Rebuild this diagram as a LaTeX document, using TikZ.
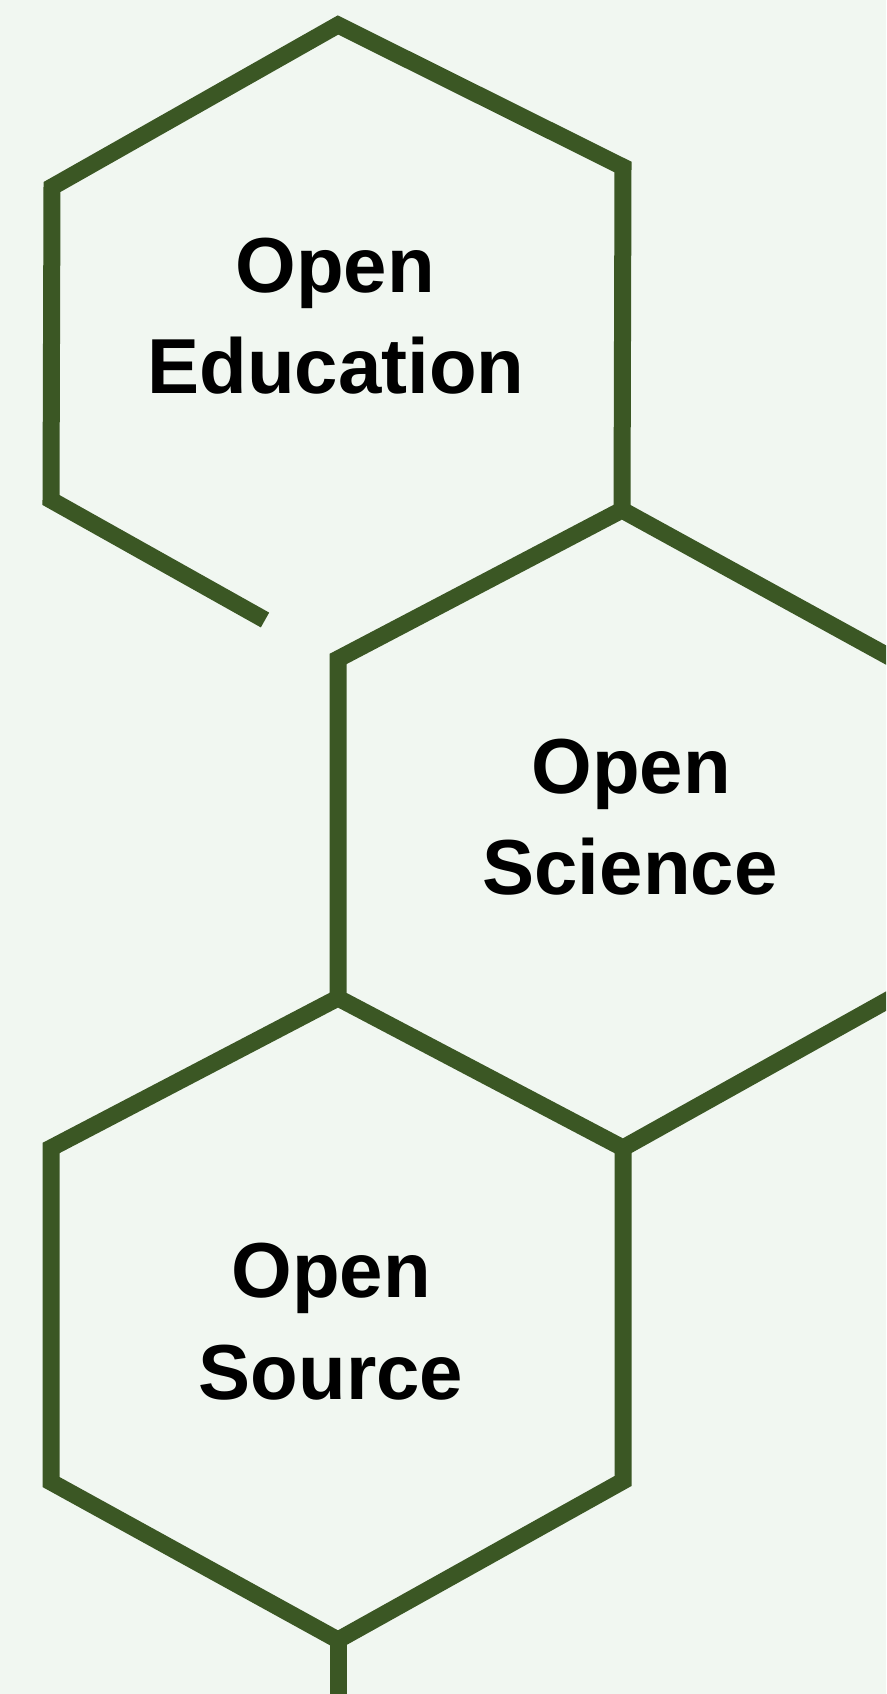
\documentclass[tikz,border=0pt]{standalone}
\usepackage{fontspec}
\setmainfont{Liberation Sans}
\definecolor{bgmint}{RGB}{241,247,241}
\definecolor{hexgreen}{RGB}{59,87,36}
\tikzset{
  hexline/.style={draw=hexgreen, line width=17pt, line join=miter, miter limit=10},
  label/.style={font=\fontsize{78}{101}\selectfont\bfseries, text=black, inner sep=0pt, anchor=base}
}
\begin{document}
\begin{tikzpicture}[x=1pt,y=-1pt]
  \fill[bgmint] (0,0) rectangle (886,1694);
  \useasboundingbox (0,0) rectangle (886,1694);
  \clip (0,0) rectangle (886,1694);

  % upper hexagon (open on its lower side)
  \coordinate (e-end) at (265,620);
  \coordinate (e-ll)  at (51,500);
  \coordinate (e-ul)  at (52,187);
  \coordinate (e-top) at (338,25);
  \coordinate (e-ur)  at (623,167);
  \coordinate (e-lr)  at (622,510);

  % middle hexagon (cut by the right edge)
  \coordinate (s-ur)  at (906,666);
  \coordinate (s-ul)  at (338,659);
  \coordinate (s-ll)  at (338,998);
  \coordinate (s-bot) at (623,1148);
  \coordinate (s-lr)  at (906,990);

  % lower hexagon
  \coordinate (o-ul)  at (51,1148);
  \coordinate (o-ll)  at (51,1482);
  \coordinate (o-bot) at (338,1640);
  \coordinate (o-lr)  at (623,1481);
  \coordinate (o-tail) at (338,1710);

  \draw[hexline] (e-end) -- (e-ll) -- (e-ul) -- (e-top) -- (e-ur) -- (e-lr);
  \draw[hexline] (s-lr) -- (s-ur) -- (e-lr) -- (s-ul) -- (s-ll) -- (s-bot) -- (s-lr);
  \draw[hexline] (s-ll) -- (o-ul) -- (o-ll) -- (o-bot) -- (o-lr) -- (s-bot);
  \draw[hexline] (o-bot) -- (o-tail);

  % labels
  \node[label] (edu1) at (335,292) {Open};
  \node[label] (edu2) at (336,393) {Education};
  \node[label] (sci1) at (631,793) {Open};
  \node[label] (sci2) at (630,894) {Science};
  \node[label] (src1) at (331,1297) {Open};
  \node[label] (src2) at (331,1399) {Source};
\end{tikzpicture}
\end{document}
